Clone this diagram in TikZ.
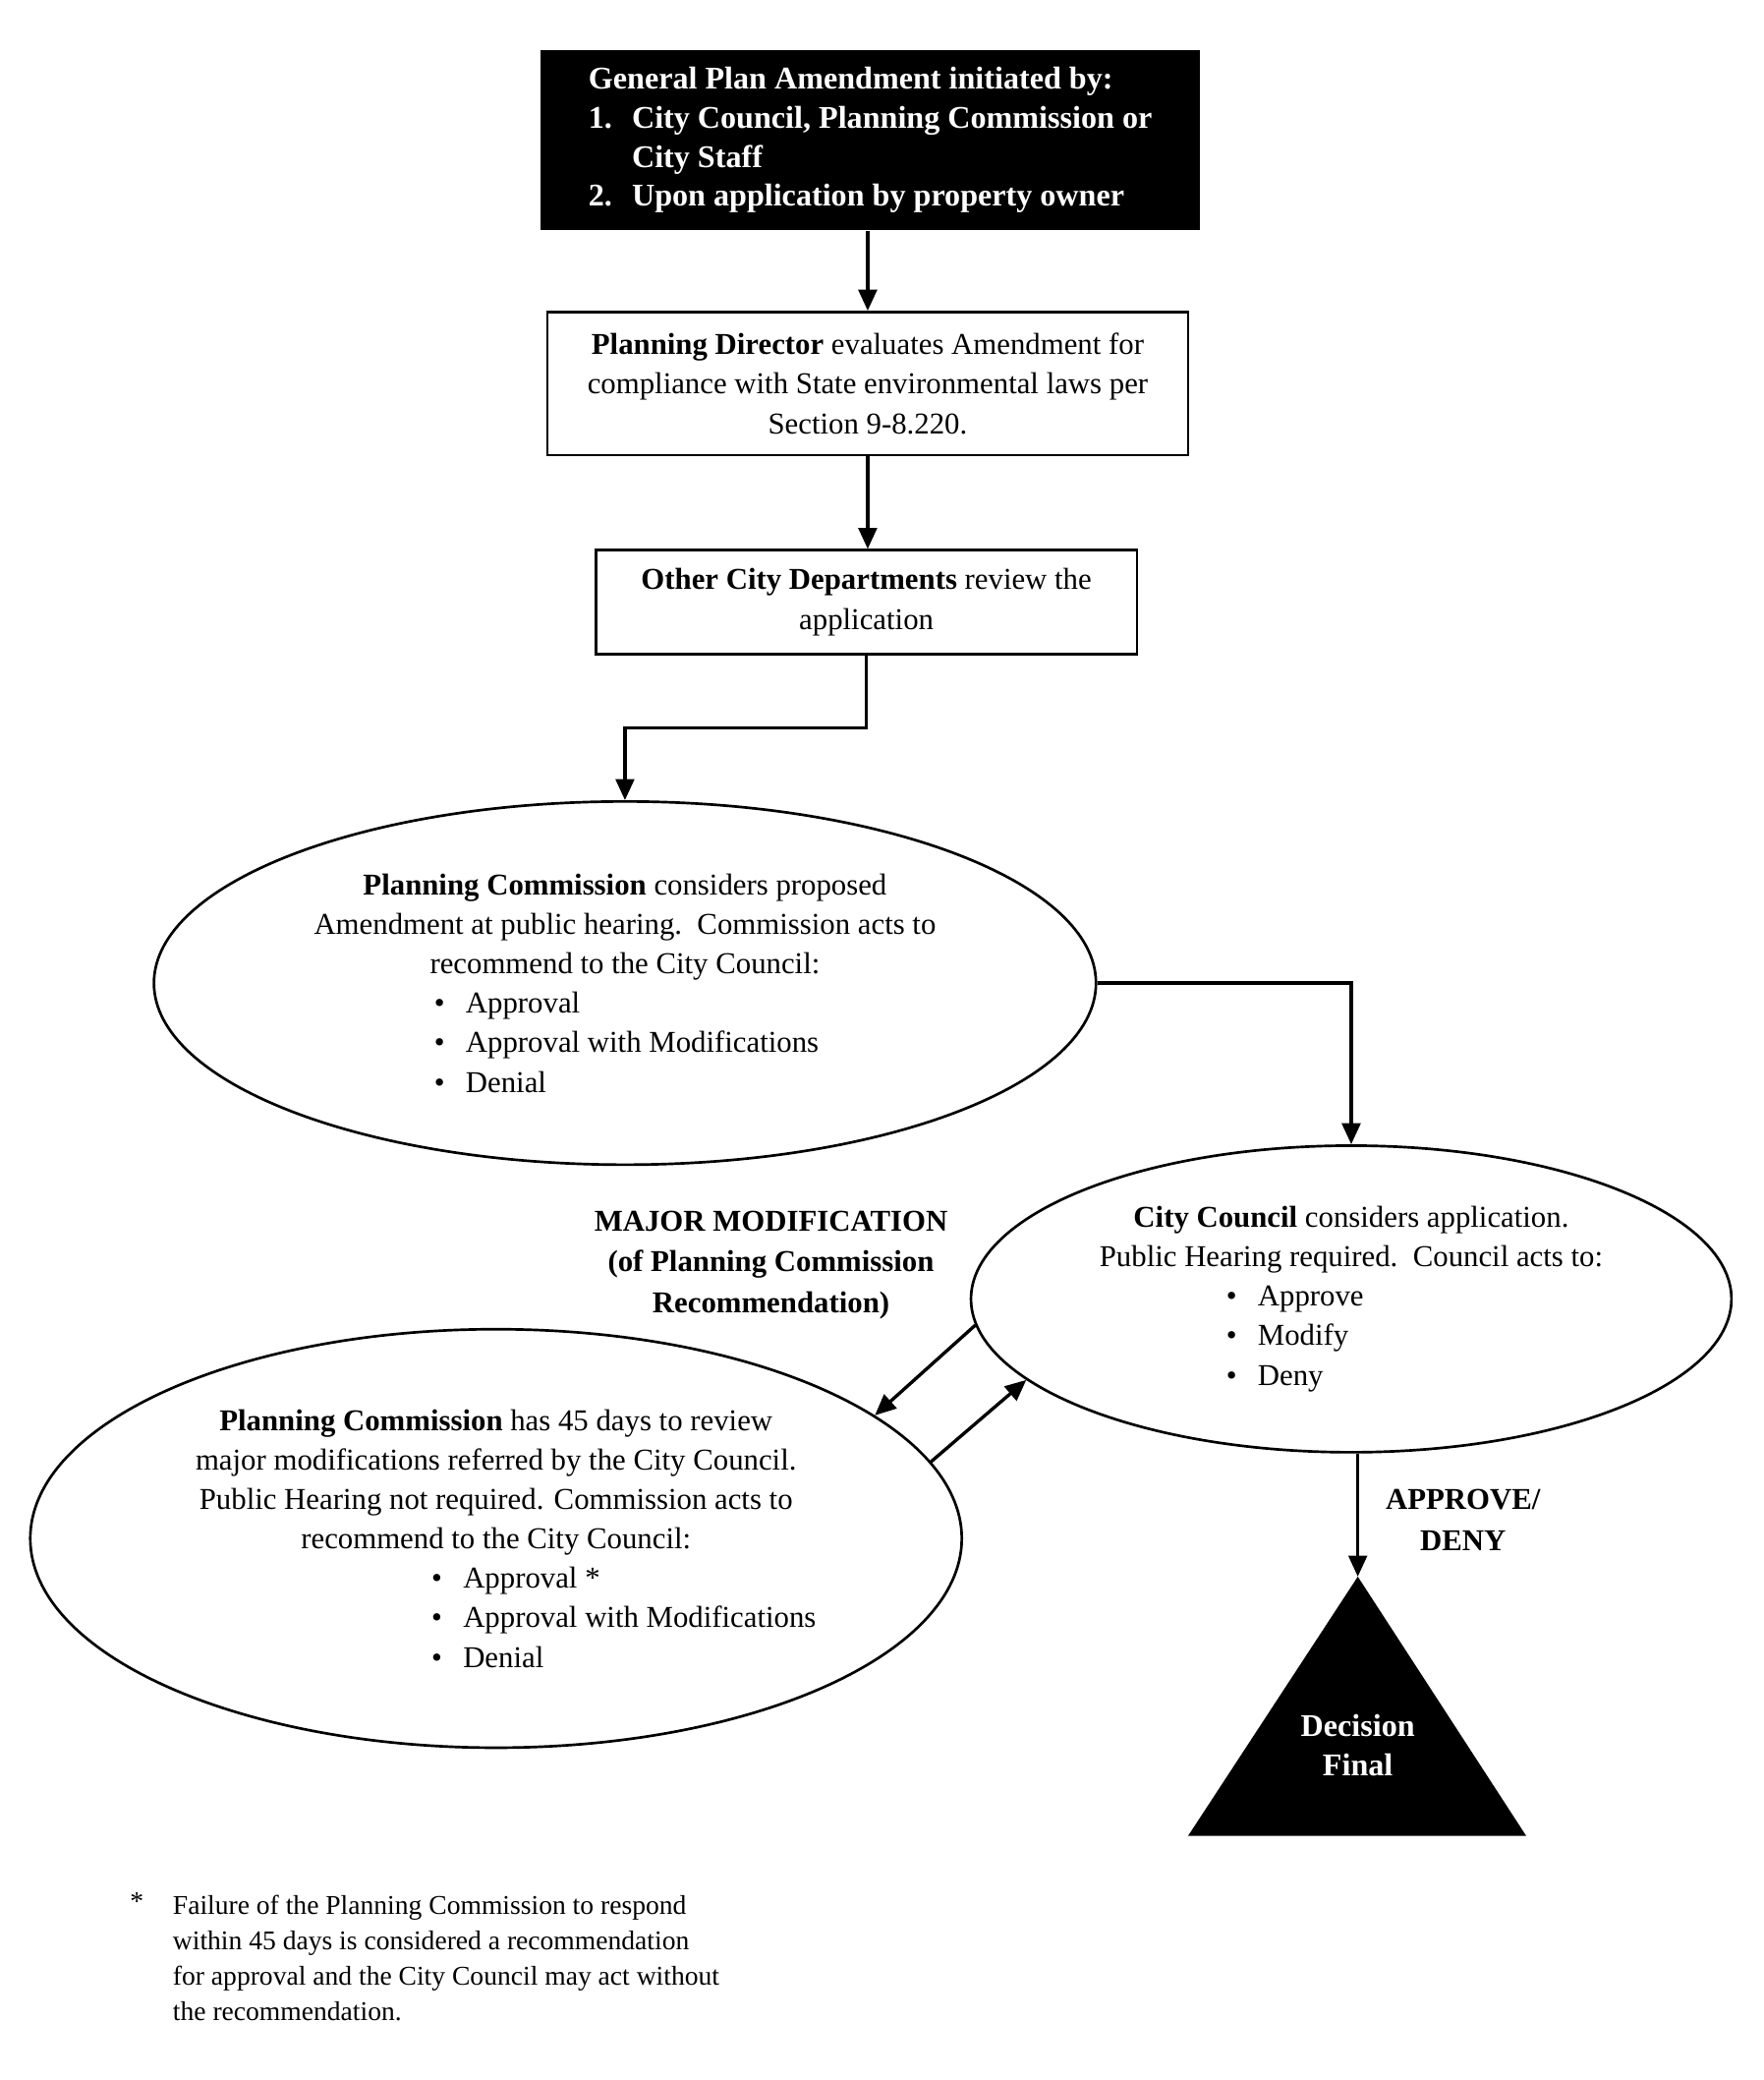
\documentclass[tikz,border=0pt]{standalone}
\usepackage{fontspec}
\setmainfont{Liberation Serif}
\usetikzlibrary{arrows.meta,shapes.geometric,calc}
\newcommand{\blt}[2]{\makebox[#1][l]{\makebox[12pt][l]{\textbullet}#2}}
\begin{document}
\begin{tikzpicture}[x=0.5pt,y=-0.5pt,
  txt/.style={font=\fontsize{11.5}{15}\selectfont, align=center, inner sep=0pt},
  rbox/.style={txt, draw, line width=0.9pt},
  ebox/.style={txt, draw, ellipse, line width=1pt},
  initbox/.style={fill=black, text=white, font=\fontsize{12}{14.85}\selectfont\bfseries, align=left, inner sep=0pt},
  lbl/.style={font=\fontsize{11.5}{15.5}\selectfont\bfseries, align=center, inner sep=0pt},
  conn/.style={line width=1.25pt, -{Triangle[length=8pt,width=7pt]}}
]
\useasboundingbox (0,0) rectangle (1340,1580.5);

\node[initbox, minimum width=250.5pt, minimum height=68.5pt] (init) at (661.5,106.5)
 {General Plan Amendment initiated by:\\
  \makebox[16.5pt][l]{1.}City Council, Planning Commission or\\
  \hspace*{16.5pt}City Staff\\
  \makebox[16.5pt][l]{2.}Upon application by property owner};

\node[rbox, minimum width=243.5pt, minimum height=54.5pt] (pd) at (659.5,291.5)
 {\textbf{Planning Director} evaluates Amendment for\\
  compliance with State environmental laws per\\
  Section 9-8.220.};

\node[rbox, minimum width=205.5pt, minimum height=39.5pt] (ocd) at (658.5,457.5)
 {\textbf{Other City Departments} review the\\application};

\node[ebox, minimum width=358pt, minimum height=138pt] (pc1) at (475,747)
 {\textbf{Planning Commission} considers proposed\\
  Amendment at public hearing.\ \ Commission acts to\\
  recommend to the City Council:\\
  \blt{145pt}{Approval}\\
  \blt{145pt}{Approval with Modifications}\\
  \blt{145pt}{Denial}};

\node[ebox, minimum width=289pt, minimum height=116.5pt] (cc) at (1027,987)
 {\textbf{City Council} considers application.\\
  Public Hearing required.\ \ Council acts to:\\
  \blt{95pt}{Approve}\\
  \blt{95pt}{Modify}\\
  \blt{95pt}{Deny}};

\node[ebox, minimum width=354pt, minimum height=159pt] (pc2) at (377,1169)
 {\textbf{Planning Commission} has 45 days to review\\
  major modifications referred by the City Council.\\
  Public Hearing not required. Commission acts to\\
  recommend to the City Council:\\
  \blt{49pt}{Approval *}\\
  \blt{49pt}{Approval with Modifications}\\
  \blt{49pt}{Denial}};

\node[lbl] (mm) at (586,961) {MAJOR MODIFICATION\\(of Planning Commission\\Recommendation)};
\node[lbl] (ad) at (1112,1155) {APPROVE/\\DENY};

\coordinate (apex) at (1032,1198);
\coordinate (bl) at (903,1395);
\coordinate (br) at (1160,1395);
\fill (apex) -- (br) -- (bl) -- cycle;
\node[lbl, text=white, font=\fontsize{12}{15}\selectfont\bfseries] (dec) at (1032,1326) {Decision\\Final};

\node[inner sep=0pt, font=\fontsize{10.3}{13.5}\selectfont] (star) at (104,1445) {*};
\node[inner sep=0pt, anchor=west, align=left, font=\fontsize{10.3}{13.5}\selectfont] (fn) at (131,1488)
 {Failure of the Planning Commission to respond\\
  within 45 days is considered a recommendation\\
  for approval and the City Council may act without\\
  the recommendation.};

\draw[conn] (pd.north |- init.south) -- (pd.north);
\draw[conn] (pd.south) -- (pd.south |- ocd.north);
\draw[conn] (ocd.south) -- ++(0,55) -| (pc1.north);
\draw[conn] (pc1.east) -| (cc.north);
\draw[conn] (cc.184) -- (pc2.18);
\draw[conn] (pc2.10) -- (cc.194);
\draw[conn] (apex |- cc.south) -- (apex);
\end{tikzpicture}
\end{document}
